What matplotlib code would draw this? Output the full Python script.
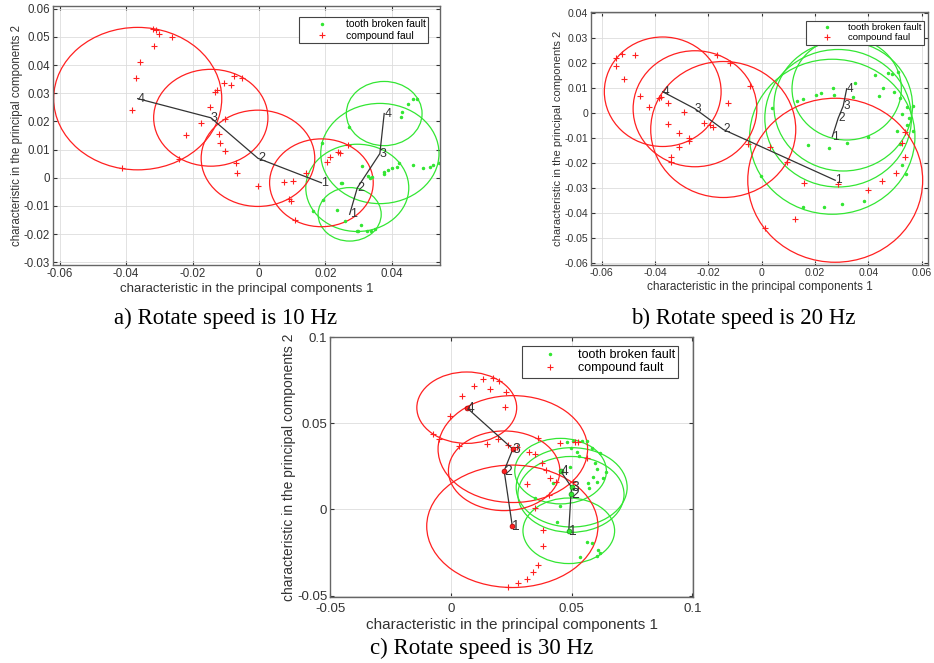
import matplotlib
matplotlib.use("Agg")
import matplotlib.pyplot as plt
from matplotlib.patches import Ellipse
from matplotlib.ticker import FuncFormatter
import numpy as np

plt.rcParams['font.family'] = ['Liberation Sans', 'DejaVu Sans']

# ---------------- panel a (10 Hz) ----------------
a_green_x = [0.0272, 0.0189, 0.0246, 0.0192, 0.0164, 0.0236, 0.0259, 0.0294, 0.0299, 0.0308,
             0.0325, 0.0337, 0.0350, 0.0310, 0.0333, 0.0375, 0.0377, 0.0388, 0.0400, 0.0415,
             0.0423, 0.0463, 0.0493, 0.0516, 0.0524, 0.0541, 0.0450, 0.0463, 0.0477, 0.0432,
             0.0428, 0.0329, 0.0339, 0.0249]
a_green_y = [0.0181, 0.0122, -0.0020, -0.0079, -0.0117, -0.0115, -0.0153, -0.0188, -0.0191, -0.0168,
             -0.0188, -0.0191, -0.0183, 0.0041, -0.0002, 0.0021, 0.0015, 0.0027, 0.0033, 0.0039,
             0.0053, 0.0045, 0.0035, 0.0039, 0.0044, 0.0053, 0.0261, 0.0281, 0.0280, 0.0234,
             0.0214, 0.0006, 0.0004, -0.0020]
a_red_x = [-0.0319, -0.0309, -0.0302, -0.0263, -0.0317, -0.0359, -0.0369, -0.0381, -0.0412, -0.0240,
           -0.0221, -0.0175, -0.0148, -0.0133, -0.0125, -0.0105, -0.0085, -0.0074, -0.0052, -0.0101,
           -0.0121, -0.0118, -0.0101, -0.0070, -0.0067, -0.0002, 0.0076, 0.0101, 0.0090, 0.0095,
           0.0109, 0.0142, 0.0206, 0.0214, 0.0239, 0.0244, 0.0267]
a_red_y = [0.0529, 0.0523, 0.0511, 0.0499, 0.0468, 0.0411, 0.0354, 0.0240, 0.0033, 0.0067,
           0.0151, 0.0196, 0.0251, 0.0305, 0.0313, 0.0336, 0.0328, 0.0360, 0.0354, 0.0210,
           0.0157, 0.0124, 0.0096, 0.0051, 0.0018, -0.0030, -0.0014, -0.0011, -0.0076, -0.0081,
           -0.0150, 0.0018, 0.0057, 0.0072, 0.0092, 0.0089, 0.0118]
a_gc_x = [0.0273, 0.0296, 0.0364, 0.0377]
a_gc_y = [-0.0130, -0.0036, 0.0086, 0.0228]
a_gc_r = [0.0095, 0.0155, 0.0178, 0.0114]
a_rc_x = [0.0188, -0.0003, -0.0145, -0.0365]
a_rc_y = [-0.0018, 0.0069, 0.0213, 0.0281]
a_rc_r = [0.0156, 0.0171, 0.0172, 0.0253]

# ---------------- panel b (20 Hz) ----------------
b_green_x = [0.0131, 0.0156, 0.0204, 0.0223, 0.0269, 0.0271, 0.0350, 0.0344, 0.0038, 0.0175,
             0.0253, 0.0321, 0.0400, 0.0425, 0.0473, 0.0488, 0.0513, 0.0441, 0.0456, 0.0498,
             0.0519, 0.0525, 0.0544, 0.0553, 0.0544, 0.0569, 0.0569, 0.0506, 0.0519, 0.0540,
             0.0525, 0.0384, 0.0303, 0.0234, 0.0156, -0.0003]
b_green_y = [0.0049, 0.0057, 0.0073, 0.0083, 0.0100, 0.0073, 0.0123, 0.0067, 0.0023, -0.0127,
             -0.0137, -0.0120, -0.0096, 0.0153, 0.0160, 0.0156, 0.0167, 0.0071, 0.0103, 0.0087,
             0.0060, -0.0004, 0.0027, -0.0020, -0.0047, 0.0031, -0.0071, -0.0071, -0.0124, -0.0244,
             -0.0207, -0.0349, -0.0364, -0.0373, -0.0373, -0.0249]
b_red_x = [-0.0546, -0.0525, -0.0475, -0.0546, -0.0516, -0.0456, -0.0421, -0.0384, -0.0379, -0.0353,
           -0.0350, -0.0309, -0.0290, -0.0271, -0.0271, -0.0309, -0.0341, -0.0341, -0.0216, -0.0194,
           -0.0184, -0.0166, -0.0119, -0.0128, -0.0044, -0.0050, 0.0013, 0.0031, 0.0096, 0.0160,
           0.0288, 0.0125, 0.0400, 0.0450, 0.0503, 0.0538, 0.0525, 0.0538]
b_red_y = [0.0220, 0.0236, 0.0233, 0.0189, 0.0137, 0.0069, 0.0027, 0.0060, 0.0064, 0.0040,
           -0.0044, -0.0080, 0.0007, -0.0100, -0.0111, -0.0133, -0.0173, -0.0193, -0.0040, -0.0047,
           -0.0056, 0.0233, 0.0200, 0.0043, 0.0111, -0.0124, -0.0460, -0.0136, -0.0193, -0.0280,
           -0.0283, -0.0423, -0.0307, -0.0271, -0.0240, -0.0173, -0.0120, -0.0076]
b_gc_x = [0.0265, 0.0287, 0.0306, 0.0319]
b_gc_y = [-0.0094, -0.0020, 0.0029, 0.0098]
b_gc_r = [0.0310, 0.0275, 0.0260, 0.0205]
b_rc_x = [0.0276, -0.0144, -0.0250, -0.0371]
b_rc_y = [-0.0268, -0.0065, 0.0018, 0.0086]
b_rc_r = [0.0328, 0.0272, 0.0232, 0.0219]

# ---------------- panel c (30 Hz) ----------------
c_green_x = [0.0482, 0.0496, 0.0507, 0.0541, 0.0562, 0.0583, 0.0617, 0.0532, 0.0597, 0.0607,
             0.0642, 0.0587, 0.0569, 0.0604, 0.0573, 0.0628, 0.0491, 0.0424, 0.0452, 0.0438,
             0.0562, 0.0583, 0.0611, 0.0535, 0.0607, 0.0618, 0.0521, 0.0348]
c_green_y = [0.0393, 0.0358, 0.0397, 0.0397, 0.0397, 0.0354, 0.0325, 0.0309, 0.0267, 0.0234,
             0.0219, 0.0190, 0.0151, 0.0161, 0.0122, 0.0180, 0.0248, 0.0155, 0.0021, -0.0072,
             -0.0188, -0.0197, -0.0236, -0.0275, -0.0271, -0.0255, 0.0335, 0.0064]
c_red_x = [0.0131, 0.0097, 0.0175, 0.0200, 0.0162, 0.0047, 0.0228, 0.0224, -0.0004, -0.0077,
           -0.0052, 0.0033, 0.0148, 0.0196, 0.0238, 0.0272, 0.0359, 0.0325, 0.0348, 0.0451,
           0.0514, 0.0527, 0.0562, 0.0376, 0.0394, 0.0410, 0.0316, 0.0435, 0.0504, 0.0407,
           0.0348, 0.0380, 0.0380, 0.0362, 0.0341, 0.0316, 0.0279, 0.0238]
c_red_y = [0.0754, 0.0718, 0.0760, 0.0745, 0.0698, 0.0660, 0.0679, 0.0596, 0.0544, 0.0435,
           0.0406, 0.0368, 0.0377, 0.0406, 0.0373, 0.0360, 0.0416, 0.0331, 0.0321, 0.0387,
           0.0393, 0.0393, 0.0296, 0.0271, 0.0228, 0.0180, 0.0145, 0.0161, 0.0161, 0.0083,
           0.0006, -0.0120, -0.0211, -0.0323, -0.0362, -0.0404, -0.0429, -0.0449]
c_gc_x = [0.0488, 0.0497, 0.0500, 0.0454]
c_gc_y = [-0.0124, 0.0087, 0.0128, 0.0222]
c_gc_r = [0.0190, 0.0220, 0.0230, 0.0190]
c_rc_x = [0.0254, 0.0220, 0.0256, 0.0065]
c_rc_y = [-0.0098, 0.0224, 0.0350, 0.0590]
c_rc_r = [0.0355, 0.0231, 0.0310, 0.0207]

point_labels = ['1', '2', '3', '4']
green = '#33e633'
red = '#ff2020'


def fmt(v, pos):
    s = '%g' % round(v, 4)
    return '0' if s in ('0', '-0') else s


def panel(rect, gx, gy, rx, ry, gcx, gcy, gcr, rcx, rcy, rcr, xlim, ylim, xt, yt,
          red_name, leg_anchor, sizes, xpad=2, mark_centers=False):
    tick_fs, xl_fs, yl_fs, leg_fs, num_fs = sizes
    ax = fig.add_axes(rect)
    g, = ax.plot(gx, gy, '.', color=green, ms=3, ls='none', label='tooth broken fault')
    r, = ax.plot(rx, ry, '+', color=red, ms=5, mew=0.8, ls='none', label=red_name)
    for cx, cy, rr, col in [(a, b, c, green) for a, b, c in zip(gcx, gcy, gcr)] + \
                           [(a, b, c, red) for a, b, c in zip(rcx, rcy, rcr)]:
        ax.add_patch(Ellipse((cx, cy), 2 * rr, 2 * rr, fill=False, ec=col, lw=0.9))
    for cx, cy in [(gcx, gcy), (rcx, rcy)]:
        ax.plot(cx, cy, '-', color='#333333', lw=0.9)
        for x, y, t in zip(cx, cy, point_labels):
            ax.text(x, y, t, ha='left', va='center', fontsize=num_fs, color='#333333')
    if mark_centers:
        ax.plot(gcx, gcy, 'o', color=green, ms=3.5, mec='#119911', mew=0.5, ls='none')
        ax.plot(rcx, rcy, 'o', color=red, ms=3.5, mec='#aa0000', mew=0.5, ls='none')
    ax.set_xlim(xlim)
    ax.set_ylim(ylim)
    ax.set_xticks(xt)
    ax.set_yticks(yt)
    ax.xaxis.set_major_formatter(FuncFormatter(fmt))
    ax.yaxis.set_major_formatter(FuncFormatter(fmt))
    ax.grid(True, color='#dddddd', lw=0.6)
    ax.set_axisbelow(True)
    ax.tick_params(direction='in', length=3, labelsize=tick_fs, colors='#333333',
                   top=True, right=True, pad=2)
    ax.tick_params(axis='x', pad=xpad)
    for s in ax.spines.values():
        s.set_color('#666666')
        s.set_linewidth(1.0)
    ax.set_xlabel('characteristic in the principal components 1', fontsize=xl_fs,
                  color='#333333', labelpad=2)
    ax.set_ylabel('characteristic in the principal components 2', fontsize=yl_fs,
                  color='#333333', labelpad=1)
    leg = ax.legend(handles=[g, r], loc='upper right', bbox_to_anchor=leg_anchor,
                    fontsize=leg_fs, frameon=True, fancybox=False, framealpha=1,
                    edgecolor='#444444', borderpad=0.25, labelspacing=0.1,
                    handlelength=4.0, handletextpad=0.25, borderaxespad=0)
    leg.get_frame().set_linewidth(0.8)
    return ax


W, H = 934, 663
fig = plt.figure(figsize=(W / 100, H / 100), dpi=100)


def rect(l, t, r, b):
    return [l / W, 1 - b / H, (r - l) / W, (b - t) / H]


panel(rect(53, 6, 440, 265), a_green_x, a_green_y, a_red_x, a_red_y,
      a_gc_x, a_gc_y, a_gc_r, a_rc_x, a_rc_y, a_rc_r,
      (-0.062, 0.0545), (-0.031, 0.061), np.arange(-0.06, 0.041, 0.02),
      np.arange(-0.03, 0.061, 0.01), 'compound faul', (0.969, 0.958),
      (8.3, 9.5, 8.3, 7.5, 9))

panel(rect(591, 12, 928, 265), b_green_x, b_green_y, b_red_x, b_red_y,
      b_gc_x, b_gc_y, b_gc_r, b_rc_x, b_rc_y, b_rc_r,
      (-0.064, 0.0624), (-0.0607, 0.0405), np.arange(-0.06, 0.061, 0.02),
      np.arange(-0.06, 0.041, 0.01), 'compound faul', (0.989, 0.964),
      (7.6, 8.5, 8.0, 6.8, 8.5))

panel(rect(330, 337, 693, 597), c_green_x, c_green_y, c_red_x, c_red_y,
      c_gc_x, c_gc_y, c_gc_r, c_rc_x, c_rc_y, c_rc_r,
      (-0.0502, 0.1003), (-0.0508, 0.1), [-0.05, 0, 0.05, 0.1],
      [-0.05, 0, 0.05, 0.1], 'compound fault', (0.960, 0.965),
      (9.5, 11.0, 10.0, 9.0, 10), xpad=4.5, mark_centers=True)

cap = dict(fontsize=16.5, family='Liberation Serif', ha='center', va='center')
fig.text(226 / W, 1 - 318 / H, 'a) Rotate speed is 10 Hz', **cap)
fig.text(743 / W, 1 - 318 / H, 'b) Rotate speed is 20 Hz', **cap)
fig.text(482 / W, 1 - 648 / H, 'c) Rotate speed is 30 Hz', **cap)

fig.savefig('out.png', dpi=100)
